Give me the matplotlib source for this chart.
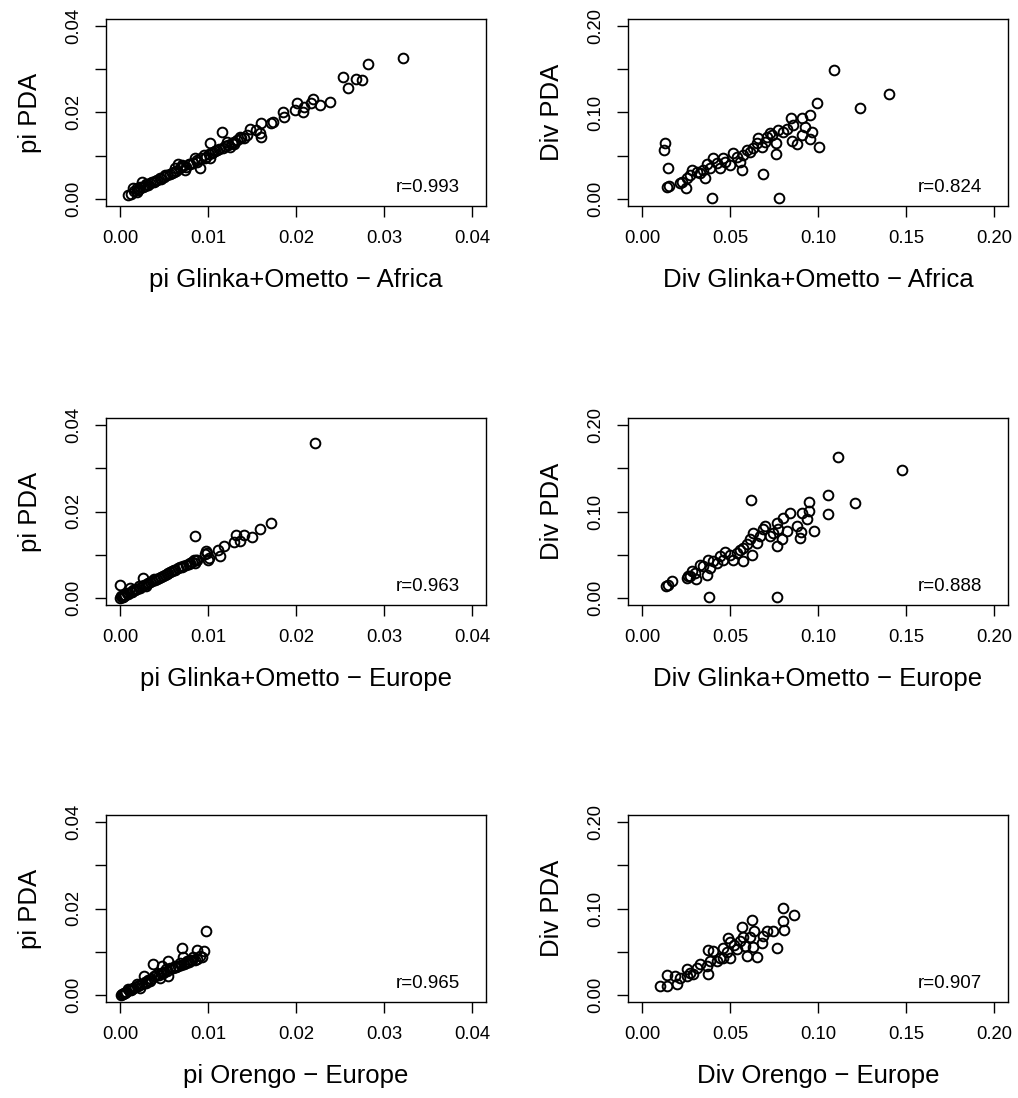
import matplotlib
matplotlib.use("Agg")
import matplotlib.pyplot as plt

plt.rcParams['font.family'] = ['Liberation Sans', 'DejaVu Sans']

# pi, Glinka+Ometto vs PDA, Africa
pi_af_x = [0.0322, 0.0282, 0.0253, 0.0268, 0.0275, 0.0259, 0.0239, 0.0227, 0.0219, 0.0217,
           0.0209, 0.0201, 0.0199, 0.0208, 0.0185, 0.0186, 0.0174, 0.0172, 0.0160, 0.0160,
           0.0159, 0.0155, 0.0148, 0.0144, 0.0136, 0.0133, 0.0129, 0.0125, 0.0116, 0.0121,
           0.0117, 0.0110, 0.0102, 0.0106, 0.0102, 0.0098, 0.0095, 0.0091, 0.0087, 0.0085,
           0.0080, 0.0074, 0.0070, 0.0066, 0.0063, 0.0057, 0.0051, 0.0045, 0.0042, 0.0036,
           0.0030, 0.0025, 0.0023, 0.0019, 0.0015, 0.0019, 0.0009,
           0.0012, 0.0016, 0.0020, 0.0022, 0.0026, 0.0028, 0.0032, 0.0034, 0.0038, 0.0040,
           0.0047, 0.0050, 0.0053, 0.0059, 0.0061, 0.0064, 0.0068, 0.0072, 0.0075, 0.0078,
           0.0083, 0.0088, 0.0092, 0.0097, 0.0101, 0.0104, 0.0108, 0.0112, 0.0119, 0.0123,
           0.0127, 0.0130, 0.0138, 0.0141]
pi_af_y = [0.0325, 0.0313, 0.0282, 0.0278, 0.0274, 0.0257, 0.0225, 0.0218, 0.0232, 0.0223,
           0.0213, 0.0221, 0.0205, 0.0202, 0.0202, 0.0190, 0.0178, 0.0175, 0.0175, 0.0144,
           0.0152, 0.0159, 0.0163, 0.0148, 0.0144, 0.0136, 0.0128, 0.0121, 0.0154, 0.0132,
           0.0117, 0.0113, 0.0130, 0.0109, 0.0094, 0.0098, 0.0102, 0.0072, 0.0086, 0.0095,
           0.0082, 0.0067, 0.0078, 0.0080, 0.0071, 0.0059, 0.0055, 0.0048, 0.0044, 0.0040,
           0.0034, 0.0040, 0.0028, 0.0025, 0.0025, 0.0017, 0.0009,
           0.0012, 0.0018, 0.0021, 0.0024, 0.0027, 0.0030, 0.0033, 0.0036, 0.0039, 0.0042,
           0.0046, 0.0052, 0.0055, 0.0060, 0.0063, 0.0066, 0.0072, 0.0076, 0.0074, 0.0081,
           0.0084, 0.0090, 0.0094, 0.0095, 0.0103, 0.0106, 0.0112, 0.0115, 0.0123, 0.0126,
           0.0130, 0.0131, 0.0140, 0.0142]

# divergence, Glinka+Ometto vs PDA, Africa
div_af_x = [0.1091, 0.1402, 0.1239, 0.0996, 0.0955, 0.0909, 0.0847, 0.1004, 0.0966, 0.0955,
            0.0926, 0.0907, 0.0879, 0.0850, 0.0860, 0.0822, 0.0803, 0.0775, 0.0761, 0.0761,
            0.0737, 0.0727, 0.0708, 0.0699, 0.0680, 0.0661, 0.0652, 0.0633, 0.0614, 0.0595,
            0.0576, 0.0566, 0.0557, 0.0538, 0.0519, 0.0500, 0.0472, 0.0462, 0.0443, 0.0424,
            0.0405, 0.0386, 0.0367, 0.0358, 0.0348, 0.0330, 0.0311, 0.0282, 0.0273, 0.0250,
            0.0254, 0.0225, 0.0216, 0.0686, 0.0396, 0.0780, 0.0131, 0.0127, 0.0150, 0.0144,
            0.0155]
div_af_y = [0.1496, 0.1208, 0.1054, 0.1115, 0.0969, 0.0931, 0.0942, 0.0600, 0.0777, 0.0692,
            0.0835, 0.0738, 0.0631, 0.0669, 0.0854, 0.0815, 0.0777, 0.0796, 0.0642, 0.0515,
            0.0738, 0.0758, 0.0719, 0.0662, 0.0604, 0.0700, 0.0642, 0.0585, 0.0546, 0.0565,
            0.0508, 0.0335, 0.0431, 0.0488, 0.0527, 0.0392, 0.0431, 0.0469, 0.0354, 0.0412,
            0.0477, 0.0354, 0.0400, 0.0238, 0.0335, 0.0296, 0.0315, 0.0335, 0.0277, 0.0131,
            0.0238, 0.0200, 0.0181, 0.0285, 0.0008, 0.0008, 0.0642, 0.0565, 0.0362, 0.0142,
            0.0150]

# pi, Glinka+Ometto vs PDA, Europe
pi_eu_x = [0.0222, 0.0172, 0.0159, 0.0150, 0.0141, 0.0132, 0.0136, 0.0129, 0.0118, 0.0111,
           0.0114, 0.0100, 0.0098, 0.0097, 0.0085, 0.0087, 0.0085, 0.0080, 0.0072, 0.0066,
           0.0061, 0.0055, 0.0049, 0.0044, 0.0038, 0.0032, 0.0026, 0.0027, 0.0021, 0.0015,
           0.0011, 0.0008, 0.0004, 0.0000, 0.0000, 0.0001,
           0.0002, 0.0003, 0.0005, 0.0006, 0.0009, 0.0012, 0.0014, 0.0017, 0.0019, 0.0023,
           0.0025, 0.0029, 0.0031, 0.0034, 0.0036, 0.0040, 0.0042, 0.0047, 0.0051, 0.0053,
           0.0057, 0.0059, 0.0063, 0.0068, 0.0070, 0.0075, 0.0078, 0.0082, 0.0084, 0.0086,
           0.0099, 0.0101]
pi_eu_y = [0.0358, 0.0174, 0.0160, 0.0142, 0.0145, 0.0146, 0.0131, 0.0129, 0.0120, 0.0112,
           0.0097, 0.0089, 0.0108, 0.0101, 0.0143, 0.0089, 0.0081, 0.0081, 0.0073, 0.0070,
           0.0066, 0.0058, 0.0052, 0.0046, 0.0043, 0.0035, 0.0046, 0.0031, 0.0027, 0.0019,
           0.0023, 0.0012, 0.0006, 0.0031, 0.0000, 0.0004,
           0.0002, 0.0003, 0.0005, 0.0007, 0.0010, 0.0013, 0.0015, 0.0018, 0.0020, 0.0024,
           0.0027, 0.0029, 0.0032, 0.0036, 0.0039, 0.0042, 0.0045, 0.0049, 0.0053, 0.0056,
           0.0060, 0.0062, 0.0066, 0.0071, 0.0072, 0.0076, 0.0079, 0.0084, 0.0087, 0.0088,
           0.0105, 0.0092]

# divergence, Glinka+Ometto vs PDA, Europe
div_eu_x = [0.1116, 0.1477, 0.1210, 0.1059, 0.1059, 0.0947, 0.0977, 0.0947, 0.0907, 0.0898,
            0.0902, 0.0936, 0.0879, 0.0841, 0.0803, 0.0822, 0.0765, 0.0775, 0.0765, 0.0794,
            0.0746, 0.0727, 0.0699, 0.0690, 0.0671, 0.0652, 0.0633, 0.0621, 0.0614, 0.0595,
            0.0576, 0.0623, 0.0576, 0.0557, 0.0538, 0.0519, 0.0500, 0.0472, 0.0462, 0.0443,
            0.0424, 0.0405, 0.0386, 0.0377, 0.0367, 0.0348, 0.0330, 0.0301, 0.0282, 0.0273,
            0.0263, 0.0254, 0.0307, 0.0169, 0.0150, 0.0136, 0.0383, 0.0765]
div_eu_y = [0.1624, 0.1481, 0.1094, 0.1187, 0.0967, 0.1110, 0.0770, 0.1005, 0.0978, 0.0696,
            0.0762, 0.0909, 0.0831, 0.0986, 0.0928, 0.0773, 0.0870, 0.0793, 0.0599, 0.0677,
            0.0754, 0.0715, 0.0831, 0.0793, 0.0715, 0.0638, 0.0754, 0.1133, 0.0677, 0.0619,
            0.0580, 0.0503, 0.0425, 0.0561, 0.0522, 0.0445, 0.0503, 0.0530, 0.0445, 0.0483,
            0.0406, 0.0425, 0.0348, 0.0445, 0.0271, 0.0367, 0.0387, 0.0290, 0.0309, 0.0251,
            0.0259, 0.0232, 0.0220, 0.0193, 0.0155, 0.0143, 0.0008, 0.0008]

# pi, Orengo vs PDA, Europe
pi_or_x = [0.0098, 0.0070, 0.0088, 0.0095, 0.0091, 0.0037, 0.0055, 0.0048, 0.0072, 0.0080,
           0.0068, 0.0063, 0.0055, 0.0053, 0.0045, 0.0027, 0.0038, 0.0034, 0.0030, 0.0019,
           0.0023, 0.0015, 0.0009, 0.0006, 0.0001, 0.0002, 0.0064, 0.0076, 0.0083, 0.0042,
           0.0049,
           0.0003, 0.0004, 0.0007, 0.0010, 0.0012, 0.0014, 0.0017, 0.0020, 0.0022, 0.0025,
           0.0028, 0.0032, 0.0035, 0.0040, 0.0044, 0.0047, 0.0050, 0.0052, 0.0057, 0.0060,
           0.0062, 0.0066, 0.0069, 0.0073, 0.0075, 0.0078, 0.0082, 0.0085, 0.0087, 0.0093]
pi_or_y = [0.0149, 0.0108, 0.0104, 0.0101, 0.0091, 0.0072, 0.0079, 0.0068, 0.0087, 0.0081,
           0.0075, 0.0068, 0.0043, 0.0056, 0.0040, 0.0043, 0.0044, 0.0033, 0.0029, 0.0026,
           0.0017, 0.0017, 0.0013, 0.0005, 0.0000, 0.0003, 0.0064, 0.0079, 0.0087, 0.0048,
           0.0052,
           0.0002, 0.0004, 0.0008, 0.0011, 0.0012, 0.0015, 0.0019, 0.0021, 0.0023, 0.0025,
           0.0030, 0.0034, 0.0037, 0.0044, 0.0047, 0.0051, 0.0053, 0.0060, 0.0062, 0.0063,
           0.0065, 0.0067, 0.0070, 0.0072, 0.0074, 0.0077, 0.0080, 0.0082, 0.0084, 0.0088]

# divergence, Orengo vs PDA, Europe
div_or_x = [0.0799, 0.0864, 0.0799, 0.0807, 0.0765, 0.0746, 0.0708, 0.0690, 0.0680, 0.0652,
            0.0636, 0.0623, 0.0633, 0.0595, 0.0614, 0.0566, 0.0576, 0.0585, 0.0557, 0.0538,
            0.0523, 0.0500, 0.0491, 0.0481, 0.0462, 0.0443, 0.0424, 0.0405, 0.0377, 0.0386,
            0.0367, 0.0330, 0.0314, 0.0292, 0.0273, 0.0258, 0.0254, 0.0216, 0.0197, 0.0188,
            0.0144, 0.0144, 0.0102, 0.0377, 0.0462, 0.0500]
div_or_y = [0.1008, 0.0930, 0.0860, 0.0752, 0.0539, 0.0736, 0.0744, 0.0686, 0.0597, 0.0442,
            0.0736, 0.0868, 0.0550, 0.0453, 0.0667, 0.0783, 0.0667, 0.0570, 0.0628, 0.0531,
            0.0581, 0.0434, 0.0655, 0.0492, 0.0543, 0.0434, 0.0395, 0.0512, 0.0519, 0.0395,
            0.0337, 0.0357, 0.0318, 0.0248, 0.0260, 0.0298, 0.0221, 0.0202, 0.0132, 0.0221,
            0.0233, 0.0105, 0.0105, 0.0248, 0.0434, 0.0609]

panels = [
    (pi_af_x, pi_af_y, "pi PDA", "pi Glinka+Ometto \u2212 Africa", "r=0.993", "pi"),
    (div_af_x, div_af_y, "Div PDA", "Div Glinka+Ometto \u2212 Africa", "r=0.824", "div"),
    (pi_eu_x, pi_eu_y, "pi PDA", "pi Glinka+Ometto \u2212 Europe", "r=0.963", "pi"),
    (div_eu_x, div_eu_y, "Div PDA", "Div Glinka+Ometto \u2212 Europe", "r=0.888", "div"),
    (pi_or_x, pi_or_y, "pi PDA", "pi Orengo \u2212 Europe", "r=0.965", "pi"),
    (div_or_x, div_or_y, "Div PDA", "Div Orengo \u2212 Europe", "r=0.907", "div"),
]

W, H = 1018, 1098
fig = plt.figure(figsize=(W / 100, H / 100), dpi=100)

col_left = [106, 628]
row_top = [19, 418, 815]
box_w, box_h = 380, 187

for k, (x, y, ylab, xlab, rtxt, kind) in enumerate(panels):
    r, c = divmod(k, 2)
    left = col_left[c] / W
    bottom = 1 - (row_top[r] + box_h) / H
    ax = fig.add_axes([left, bottom, box_w / W, box_h / H])

    if kind == "pi":
        top = 0.04
        ticks = [0.0, 0.01, 0.02, 0.03, 0.04]
        ylabels = ["0.00", "", "0.02", "", "0.04"]
    else:
        top = 0.20
        ticks = [0.0, 0.05, 0.10, 0.15, 0.20]
        ylabels = ["0.00", "", "0.10", "", "0.20"]
    # 4% margin on both ends of each axis
    pad = 0.04 * top
    ax.set_xlim(-pad, top + pad)
    ax.set_ylim(-pad, top + pad)

    ax.plot(x, y, 'o', mfc='none', mec='black', ms=7.0, mew=1.4, linestyle='none')

    ax.set_xticks(ticks)
    ax.set_xticklabels(["%.2f" % t for t in ticks])
    ax.set_yticks(ticks)
    ax.set_yticklabels(ylabels, rotation=90, va='center')
    ax.tick_params(direction='out', length=8, width=1.0, labelsize=13.3, pad=9)

    for s in ax.spines.values():
        s.set_linewidth(1.0)

    ax.set_xlabel(xlab, fontsize=18.5)
    ax.xaxis.set_label_coords(0.5, -74 / box_h)
    ax.xaxis.label.set_va('center')
    ax.set_ylabel(ylab, fontsize=18.5)
    ax.yaxis.set_label_coords(-76 / box_w, 0.5)
    ax.yaxis.label.set_va('center')
    ax.yaxis.label.set_ha('center')

    ax.text(0.932, 0.10, rtxt, transform=ax.transAxes, ha='right', va='center',
            fontsize=13.5)

fig.savefig("out.png", dpi=100)
